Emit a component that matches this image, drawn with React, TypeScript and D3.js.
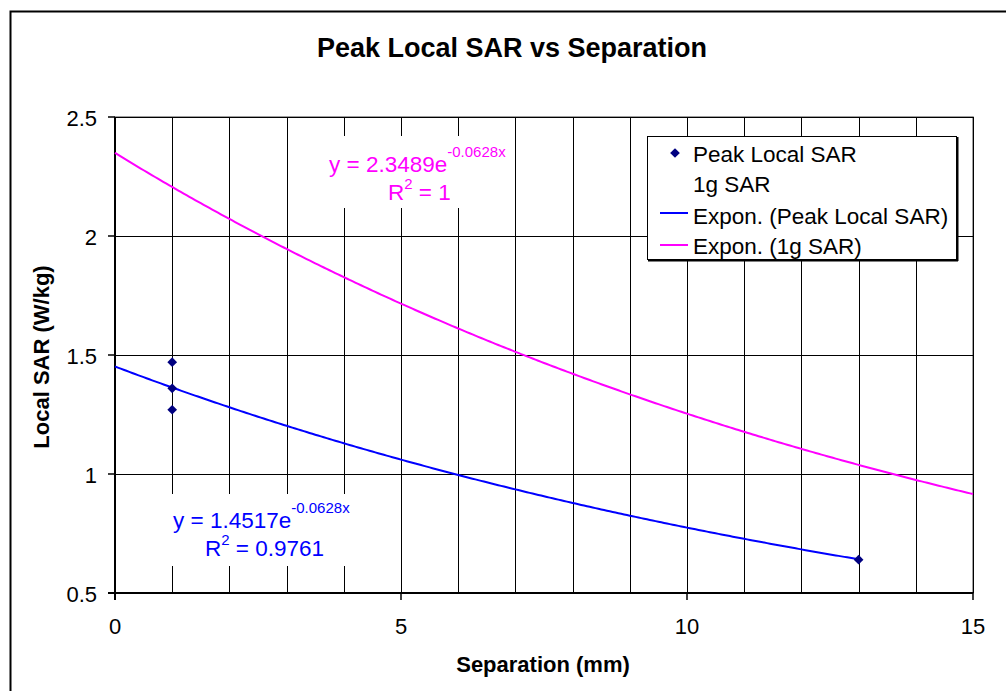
import React from "react";
import * as d3 from "d3";

const peakX = [1, 1, 1, 13];
const peakY = [1.47, 1.36, 1.27, 0.64];
const fitPeak = { a: 1.4517, b: -0.0628, r2: "0.9761", xMax: 13 };
const fit1g = { a: 2.3489, b: -0.0628, r2: "1", xMax: 15 };
const xTicks = [0, 5, 10, 15];
const yTicks = [0.5, 1, 1.5, 2, 2.5];
const xGrid = d3.range(0, 16, 1);

const FONT = "'Liberation Sans', Arial, sans-serif";

export default function App() {
  const W = 1006, H = 691;
  const L = 115, R = 973, T = 117, B = 593;
  const x = d3.scaleLinear().domain([0, 15]).range([L, R]);
  const y = d3.scaleLinear().domain([0.5, 2.5]).range([B, T]);
  const curve = (f: { a: number; b: number; xMax: number }) => {
    const xs = d3.range(0, f.xMax + 0.0001, 0.05);
    return d3
      .line<number>()
      .x((d) => x(d))
      .y((d) => y(f.a * Math.exp(f.b * d)))(xs) as string;
  };
  const diamond = d3.symbol(d3.symbolDiamond2, 60)() as string;
  return (
    <svg width={W} height={H} style={{ position: "absolute", left: 0, top: 0 }} fontFamily={FONT}>
      <rect x={0} y={0} width={W} height={H} fill="#fff" />
      <rect x={10.5} y={11.5} width={W + 10} height={H + 10} fill="#fff" stroke="#000" strokeWidth={2} />
      <text x={512} y={57} textAnchor="middle" fontSize={27} fontWeight="bold">Peak Local SAR vs Separation</text>
      {/* plot area border */}
      <rect x={L} y={T} width={R - L} height={B - T} fill="#fff" stroke="#808080" strokeWidth={1.5} />
      {/* grid */}
      {xGrid.map((v) => (
        <line key={"gx" + v} x1={Math.round(x(v)) + 0.5} x2={Math.round(x(v)) + 0.5} y1={T} y2={B} stroke="#000" strokeWidth={1} />
      ))}
      {yTicks.map((v) => (
        <line key={"gy" + v} x1={L} x2={R} y1={Math.round(y(v)) + 0.5} y2={Math.round(y(v)) + 0.5} stroke="#000" strokeWidth={1} />
      ))}
      {/* axes */}
      <line x1={L} x2={L} y1={T} y2={B + 7} stroke="#000" strokeWidth={2} />
      <line x1={L - 7} x2={R} y1={B} y2={B} stroke="#000" strokeWidth={2} />
      {yTicks.map((v) => (
        <g key={"ty" + v}>
          <line x1={L - 7} x2={L} y1={y(v)} y2={y(v)} stroke="#000" strokeWidth={1.5} />
          <text x={L - 18} y={y(v) + 9} textAnchor="end" fontSize={22}>{String(v)}</text>
        </g>
      ))}
      {xTicks.map((v) => (
        <g key={"tx" + v}>
          <line x1={x(v)} x2={x(v)} y1={B} y2={B + 7} stroke="#000" strokeWidth={1.5} />
          <text x={x(v)} y={B + 41} textAnchor="middle" fontSize={22}>{v}</text>
        </g>
      ))}
      <text x={543} y={672} textAnchor="middle" fontSize={22} fontWeight="bold">Separation (mm)</text>
      <text transform={`translate(49,357) rotate(-90)`} textAnchor="middle" fontSize={22} fontWeight="bold">Local SAR (W/kg)</text>
      {/* trendlines */}
      <path d={curve(fit1g)} fill="none" stroke="#ff00ff" strokeWidth={2} />
      <path d={curve(fitPeak)} fill="none" stroke="#0000ff" strokeWidth={2} />
      {/* points */}
      {peakX.map((v, i) => (
        <path key={"p" + i} d={diamond} transform={`translate(${x(v)},${y(peakY[i])})`} fill="#000080" />
      ))}
      {/* equations */}
      <rect x={292} y={136} width={216} height={72} fill="#fff" />
      <text x={329} y={172} fontSize={22.5} fill="#ff00ff">
        y = {fit1g.a}e<tspan dy={-15} fontSize={15}>{fit1g.b}x</tspan>
      </text>
      <text x={388} y={200} fontSize={22.5} fill="#ff00ff">
        R<tspan dy={-11} fontSize={15}>2</tspan><tspan dy={11}> = {fit1g.r2}</tspan>
      </text>
      <rect x={136} y={494} width={227} height={72} fill="#fff" />
      <text x={173} y={528} fontSize={22.5} fill="#0000ff">
        y = {fitPeak.a}e<tspan dy={-15} fontSize={15}>{fitPeak.b}x</tspan>
      </text>
      <text x={205} y={556} fontSize={22.5} fill="#0000ff">
        R<tspan dy={-11} fontSize={15}>2</tspan><tspan dy={11}> = {fitPeak.r2}</tspan>
      </text>
      {/* legend */}
      <rect x={647.5} y={136.5} width={309} height={123} fill="#fff" stroke="#000" strokeWidth={1} />
      <line x1={957.5} x2={957.5} y1={137} y2={261} stroke="#000" strokeWidth={2} />
      <line x1={648} x2={958} y1={260.5} y2={260.5} stroke="#000" strokeWidth={2} />
      <path d={diamond} transform="translate(675,153)" fill="#000080" />
      <text x={693} y={162} fontSize={22.5}>Peak Local SAR</text>
      <text x={693} y={192} fontSize={22.5}>1g SAR</text>
      <line x1={660} x2={688} y1={213} y2={213} stroke="#0000ff" strokeWidth={2} />
      <text x={693} y={224} fontSize={22.5}>Expon. (Peak Local SAR)</text>
      <line x1={660} x2={688} y1={245} y2={245} stroke="#ff00ff" strokeWidth={2} />
      <text x={693} y={254} fontSize={22.5}>Expon. (1g SAR)</text>
    </svg>
  );
}
